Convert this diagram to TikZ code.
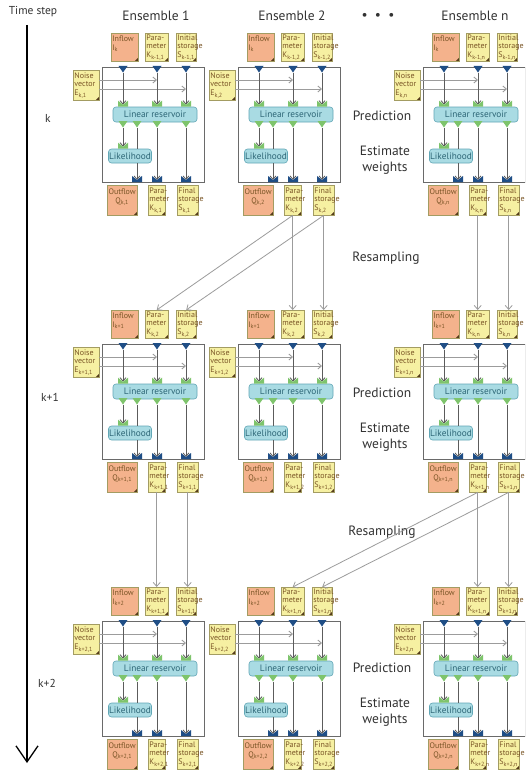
\documentclass[tikz,border=0pt]{standalone}
\usepackage{fontspec}
\setmainfont{PT Sans}
\setsansfont{PT Sans}
\usepackage{tikz}
\usetikzlibrary{arrows.meta, positioning, calc}
\hyphenpenalty=10000
\exhyphenpenalty=10000
\definecolor{noteyel}{HTML}{F6F0A2}
\definecolor{noteorg}{HTML}{F4B28C}
\definecolor{noteedge}{HTML}{A39C62}
\definecolor{notetext}{HTML}{7A5526}
\definecolor{procfill}{HTML}{A9DBE3}
\definecolor{procedge}{HTML}{62A7B6}
\definecolor{proctext}{HTML}{2D6676}
\definecolor{portblue}{HTML}{1F4E86}
\definecolor{portgreen}{HTML}{7EC46C}
\definecolor{framegray}{HTML}{6A6A6A}
\definecolor{flowgray}{HTML}{5C5C5C}
\definecolor{resgray}{HTML}{9C9C9C}
\definecolor{labgray}{HTML}{333333}
\tikzset{
  font=\sffamily,
  frame/.style={
    draw=framegray, fill=white, line width=1.1pt, anchor=north west,
    minimum width=102, minimum height=115, inner sep=0pt
  },
  note/.style={
    draw=noteedge, fill=#1, line width=0.4pt, text=notetext, anchor=north west,
    align=left, inner sep=1.2pt, minimum height=28,
    font=\fontsize{8}{8.8}\selectfont,
    path picture={\fill[notetext!70!black] (path picture bounding box.south east)
      -- ++(-3.5pt,0pt) -- ++(3.5pt,3.5pt) -- cycle;}
  },
  note/.default=noteyel,
  proc/.style={
    draw=procedge, fill=procfill, line width=0.6pt, rounded corners=3pt,
    text=proctext, inner sep=0pt, font=\fontsize{9.3}{10}\selectfont
  },
  flowarr/.style={draw=flowgray, line width=0.8pt, -{Straight Barb[length=3.5pt,width=6pt]}},
  flowln/.style={draw=flowgray, line width=0.8pt},
  noisearr/.style={draw=resgray, line width=0.9pt, -{Straight Barb[length=3.5pt,width=6pt]}},
  resarr/.style={draw=resgray, line width=0.8pt, -{Straight Barb[length=4pt,width=7pt]}},
  taxis/.style={line width=1.3pt, -{Straight Barb[length=16pt,width=22pt,line width=1.3pt]}},
  lab/.style={text=labgray, font=\fontsize{11.5}{13}\selectfont},
  head/.style={text=labgray, font=\fontsize{13.5}{15}\selectfont},
  side/.style={text=labgray, align=center, font=\fontsize{13.5}{15.5}\selectfont}
}
\newcommand{\tridown}[2]{\fill[#2] (#1) ++(-4.5,-1) -- ++(9,0) -- ++(-4.5,6.5) -- cycle;}
\newcommand{\notch}[2]{\fill[#2] (#1) ++(-5,-6) -- ++(5,4) -- ++(5,-4) -- ++(0,6) -- ++(-10,0) -- cycle;}
\newcommand{\ensblock}[9]{%
  \begin{scope}[shift={(#2)}]
    \node[frame] (#1-box) at (0,0) {};
    \coordinate (#1-t1) at (21,0);
    \coordinate (#1-t2) at (55,0);
    \coordinate (#1-t3) at (84,0);
    \coordinate (#1-g1) at (21,55);
    \coordinate (#1-g2) at (35,55);
    \coordinate (#1-g3) at (55,55);
    \coordinate (#1-g4) at (84,55);
    \coordinate (#1-b1) at (35,115);
    \coordinate (#1-b2) at (55,115);
    \coordinate (#1-b3) at (84,115);
    \coordinate (#1-e1) at (0,13);
    \coordinate (#1-e2) at (0,22);
    \node[proc, minimum width=84, minimum height=15] (#1-res) at (53,47.5) {Linear reservoir};
    \node[proc, minimum width=43, minimum height=14] (#1-lik) at (28,89) {Likelihood};
    % notes
    \node[note=noteorg, text width=24.6] (#1-in) at (9,-34) {Inflow\\I\textsubscript{#3}\\~};
    \node[note, text width=20.6] (#1-kin) at (43,-34) {Para-\\meter\\K\textsubscript{#4}};
    \node[note, text width=17.6] (#1-sin) at (74,-34) {Initial\\storage\\S\textsubscript{#5}};
    \node[note, text width=23.6, minimum height=30] (#1-noise) at (-29,3) {Noise\\vector\\E\textsubscript{#6}};
    \node[note=noteorg, text width=27.6, minimum height=30, align=center] (#1-out) at (5,118) {Outflow\\Q\textsubscript{#7}\\~};
    \node[note, text width=14.6, minimum height=30] (#1-kout) at (46,118) {Para-\\meter\\K\textsubscript{#8}};
    \node[note, text width=18.6, minimum height=30] (#1-sout) at (75,118) {Final\\storage\\S\textsubscript{#9}};
    \draw[noisearr] (#1-noise.east |- #1-e1) -- (#1-t2 |- #1-e1);
    \draw[noisearr] (#1-noise.east |- #1-e2) -- (#1-t3 |- #1-e2);
    \foreach \p in {t1,t2,t3}
      \draw[flowarr] ([yshift=-5.5pt]#1-\p) -- ([yshift=2pt]#1-\p |- #1-res.north);
    \draw[flowarr] ([yshift=-6pt]#1-g1) -- ([yshift=2pt]#1-lik.north -| #1-g1);
    \draw[flowln] ([yshift=-6pt]#1-g2) -- (#1-g2 |- #1-lik.north);
    \draw[flowarr] (#1-g2 |- #1-lik.south) -- ([yshift=2pt]#1-b1);
    \draw[flowarr] ([yshift=-6pt]#1-g3) -- ([yshift=2pt]#1-b2);
    \draw[flowarr] ([yshift=-6pt]#1-g4) -- ([yshift=2pt]#1-b3);
    % ports
    \foreach \p in {t1,t2,t3} {
      \tridown{#1-\p}{portblue}
      \notch{#1-\p |- #1-res.north}{portgreen}
    }
    \foreach \p in {g1,g2,g3,g4} {\tridown{#1-\p}{portgreen}}
    \notch{#1-g1 |- #1-lik.north}{portgreen}
    \foreach \p in {b1,b2,b3} {\notch{#1-\p}{portblue}}
  \end{scope}}

\begin{document}
\begin{tikzpicture}[x=1pt,y=-1pt]
  \useasboundingbox (0,0) rectangle (525,776);
  \clip (0,0) rectangle (525,776);
  \fill[white] (0,0) rectangle (525,776);

  \node[lab] (tstep) at (33,12) {Time step};
  \coordinate (axtop) at (27,25);
  \coordinate (axbot) at (27,763);
  \draw[taxis] (axtop) -- (axbot);
  \node[lab] (tk) at (48,118) {k};
  \node[lab] (tk1) at (50,397) {k+1};
  \node[lab] (tk2) at (47,683) {k+2};

  \node[head] (h1) at (156,16) {Ensemble 1};
  \node[head] (h2) at (292,16) {Ensemble 2};
  \node[head] (hdots) at (378,16) {\textbullet\ \ \textbullet\ \ \textbullet};
  \node[head] (hn) at (475,16) {Ensemble n};

  \ensblock{r1e1}{102,67}{k}{k-1,1}{k-1,1}{k,1}{k,1}{k,1}{k,1}
  \ensblock{r1e2}{238,67}{k}{k-1,2}{k-1,2}{k,2}{k,2}{k,2}{k,2}
  \ensblock{r1en}{423,67}{k}{k-1,n}{k-1,n}{k,n}{k,n}{k,n}{k,n}
  \ensblock{r2e1}{102,344}{k+1}{k,2}{k,2}{k+1,1}{k+1,1}{k+1,1}{k+1,1}
  \ensblock{r2e2}{238,344}{k+1}{k,2}{k,2}{k+1,2}{k+1,2}{k+1,2}{k+1,2}
  \ensblock{r2en}{423,344}{k+1}{k,n}{k,n}{k+1,n}{k+1,n}{k+1,n}{k+1,n}
  \ensblock{r3e1}{102,621}{k+2}{k+1,1}{k+1,1}{k+2,1}{k+2,1}{k+2,1}{k+2,1}
  \ensblock{r3e2}{238,621}{k+2}{k+1,n}{k+1,n}{k+2,2}{k+2,2}{k+2,2}{k+2,2}
  \ensblock{r3en}{423,621}{k+2}{k+1,n}{k+1,n}{k+2,n}{k+2,n}{k+2,n}{k+2,n}

  \node[side] (pred1) at (382,116) {Prediction};
  \node[side] (est1) at (385,160) {Estimate\\weights};
  \node[side] (pred2) at (382,393) {Prediction};
  \node[side] (est2) at (385,437) {Estimate\\weights};
  \node[side] (pred3) at (382,668) {Prediction};
  \node[side] (est3) at (385,712) {Estimate\\weights};
  \node[side] (rs1) at (386,258) {Resampling};
  \node[side] (rs2) at (382,532) {Resampling};

  % resampling k -> k+1
  \draw[resarr] (r1e2-kout.south) -- (r2e1-kin.north);
  \draw[resarr] (r1e2-sout.south) -- (r2e1-sin.north);
  \draw[resarr] (r1e2-kout.south) -- (r1e2-kout.south |- r2e2-kin.north);
  \draw[resarr] (r1e2-sout.south) -- (r1e2-sout.south |- r2e2-sin.north);
  \draw[resarr] (r1en-kout.south) -- (r1en-kout.south |- r2en-kin.north);
  \draw[resarr] (r1en-sout.south) -- (r1en-sout.south |- r2en-sin.north);
  % resampling k+1 -> k+2
  \draw[resarr] (r2e1-kout.south) -- (r2e1-kout.south |- r3e1-kin.north);
  \draw[resarr] (r2e1-sout.south) -- (r2e1-sout.south |- r3e1-sin.north);
  \draw[resarr] (r2en-kout.south) -- (r3e2-kin.north);
  \draw[resarr] (r2en-sout.south) -- (r3e2-sin.north);
  \draw[resarr] (r2en-kout.south) -- (r2en-kout.south |- r3en-kin.north);
  \draw[resarr] (r2en-sout.south) -- (r2en-sout.south |- r3en-sin.north);
\end{tikzpicture}
\end{document}
